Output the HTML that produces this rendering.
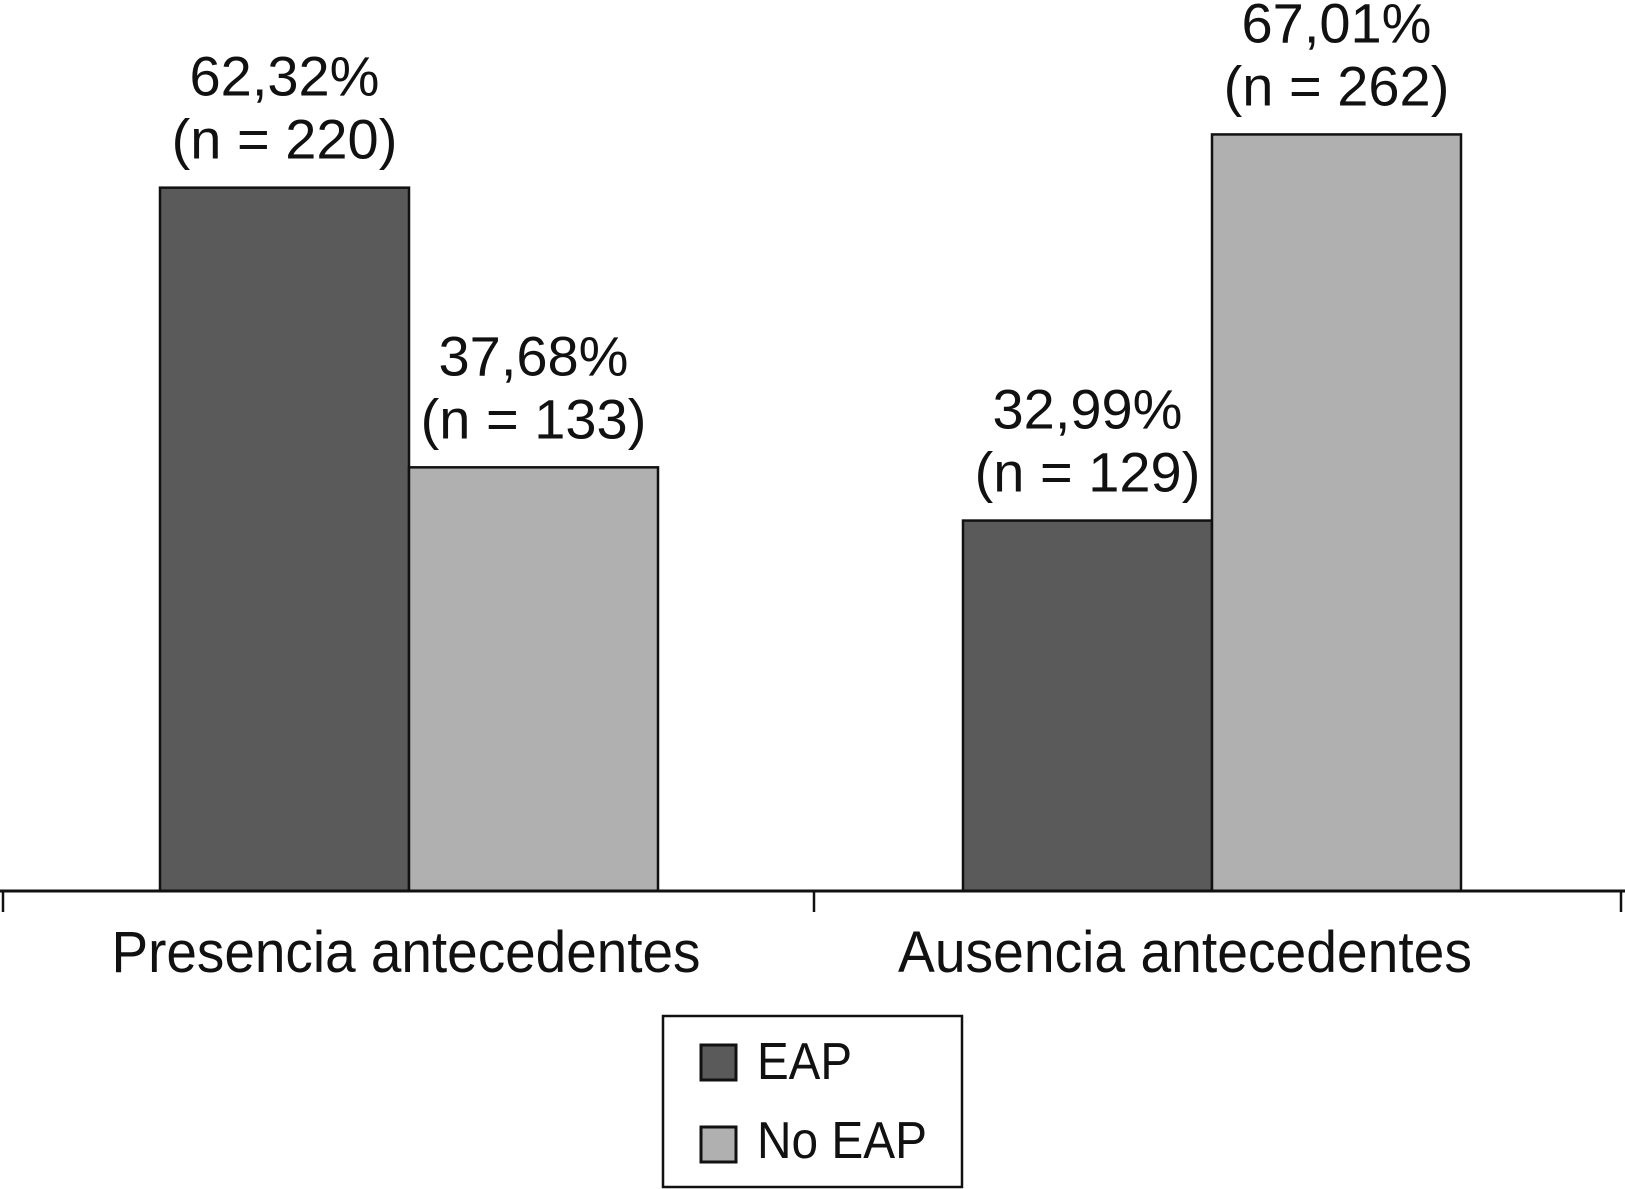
<!DOCTYPE html>
<html><head><meta charset="utf-8"><style>
html,body{margin:0;padding:0;background:#fff;}
svg{display:block;font-family:"Liberation Sans",Arial,sans-serif;}
</style></head><body>
<svg id="chart" width="1625" height="1189" viewBox="0 0 1625 1189" xmlns="http://www.w3.org/2000/svg">
<g id="bars"></g>
<g id="labels"></g>
<line x1="0" y1="891" x2="1625" y2="891" stroke="#111" stroke-width="3"/>
<g id="ticks"></g>
<g id="cats"></g>
<g>
<rect x="663" y="1016" width="299" height="171" fill="#fff" stroke="#111" stroke-width="2.5"/>
<rect x="701" y="1045" width="35" height="35" fill="#5a5a5a" stroke="#111" stroke-width="3"/>
<text x="757" y="1079" font-size="52" fill="#111" textLength="95" lengthAdjust="spacingAndGlyphs">EAP</text>
<rect x="701" y="1127" width="35" height="35" fill="#b0b0b0" stroke="#111" stroke-width="3"/>
<text x="757" y="1158" font-size="52" fill="#111" textLength="170" lengthAdjust="spacingAndGlyphs">No EAP</text>
</g>
</svg>
<script>
const categories = ["Presencia antecedentes", "Ausencia antecedentes"];
const eapValues = [62.32, 32.99];
const noEapValues = [37.68, 67.01];
const eapN = [220, 129];
const noEapN = [133, 262];
const series = [
  {name: "eap", values: eapValues, n: eapN, color: "#5a5a5a"},
  {name: "no-eap", values: noEapValues, n: noEapN, color: "#b0b0b0"}
];
const NS = "http://www.w3.org/2000/svg";
const axisY = 891;
function yScale(v){ return axisY - (11.35 * v - 4); }
function groupCenter(i){ return 409 + i * 803; }
const catCenters = [406, 1185];
const catWidths = [589, 574];
const barW = 249;
const bars = document.getElementById("bars");
const labels = document.getElementById("labels");
const ticks = document.getElementById("ticks");
const cats = document.getElementById("cats");
function fmt(v){ return v.toFixed(2).replace(".", ",") + "%"; }
categories.forEach((c, i) => {
  series.forEach((s, j) => {
    const x = groupCenter(i) + (j - 1) * barW;
    const y = yScale(s.values[i]);
    const r = document.createElementNS(NS, "rect");
    r.setAttribute("x", x); r.setAttribute("y", y);
    r.setAttribute("width", barW); r.setAttribute("height", axisY - y);
    r.setAttribute("fill", s.color); r.setAttribute("stroke", "#111"); r.setAttribute("stroke-width", "2.5");
    
    
    bars.appendChild(r);
    const cx = x + barW / 2;
    const t1 = document.createElementNS(NS, "text");
    t1.setAttribute("x", cx); t1.setAttribute("y", y - 92);
    t1.setAttribute("text-anchor", "middle"); t1.setAttribute("font-size", "56"); t1.setAttribute("fill", "#111");
    t1.textContent = fmt(s.values[i]);
    
    
    labels.appendChild(t1);
    const t2 = document.createElementNS(NS, "text");
    t2.setAttribute("x", cx); t2.setAttribute("y", y - 29);
    t2.setAttribute("text-anchor", "middle"); t2.setAttribute("font-size", "56"); t2.setAttribute("fill", "#111");
    t2.textContent = "(n = " + s.n[i] + ")";
    
    
    labels.appendChild(t2);
  });
  const ct = document.createElementNS(NS, "text");
  ct.setAttribute("x", catCenters[i]); ct.setAttribute("y", 972);
  ct.setAttribute("text-anchor", "middle"); ct.setAttribute("font-size", "58"); ct.setAttribute("fill", "#111");
  ct.setAttribute("textLength", catWidths[i]);
  ct.setAttribute("lengthAdjust", "spacingAndGlyphs");
  ct.textContent = c;
  
  
  cats.appendChild(ct);
});
[3, 814, 1621].forEach((x, k) => {
  const l = document.createElementNS(NS, "line");
  l.setAttribute("x1", x); l.setAttribute("x2", x);
  l.setAttribute("y1", axisY); l.setAttribute("y2", 912);
  l.setAttribute("stroke", "#111"); l.setAttribute("stroke-width", "2.5");
  
  
  ticks.appendChild(l);
});
</script>
</body></html>
